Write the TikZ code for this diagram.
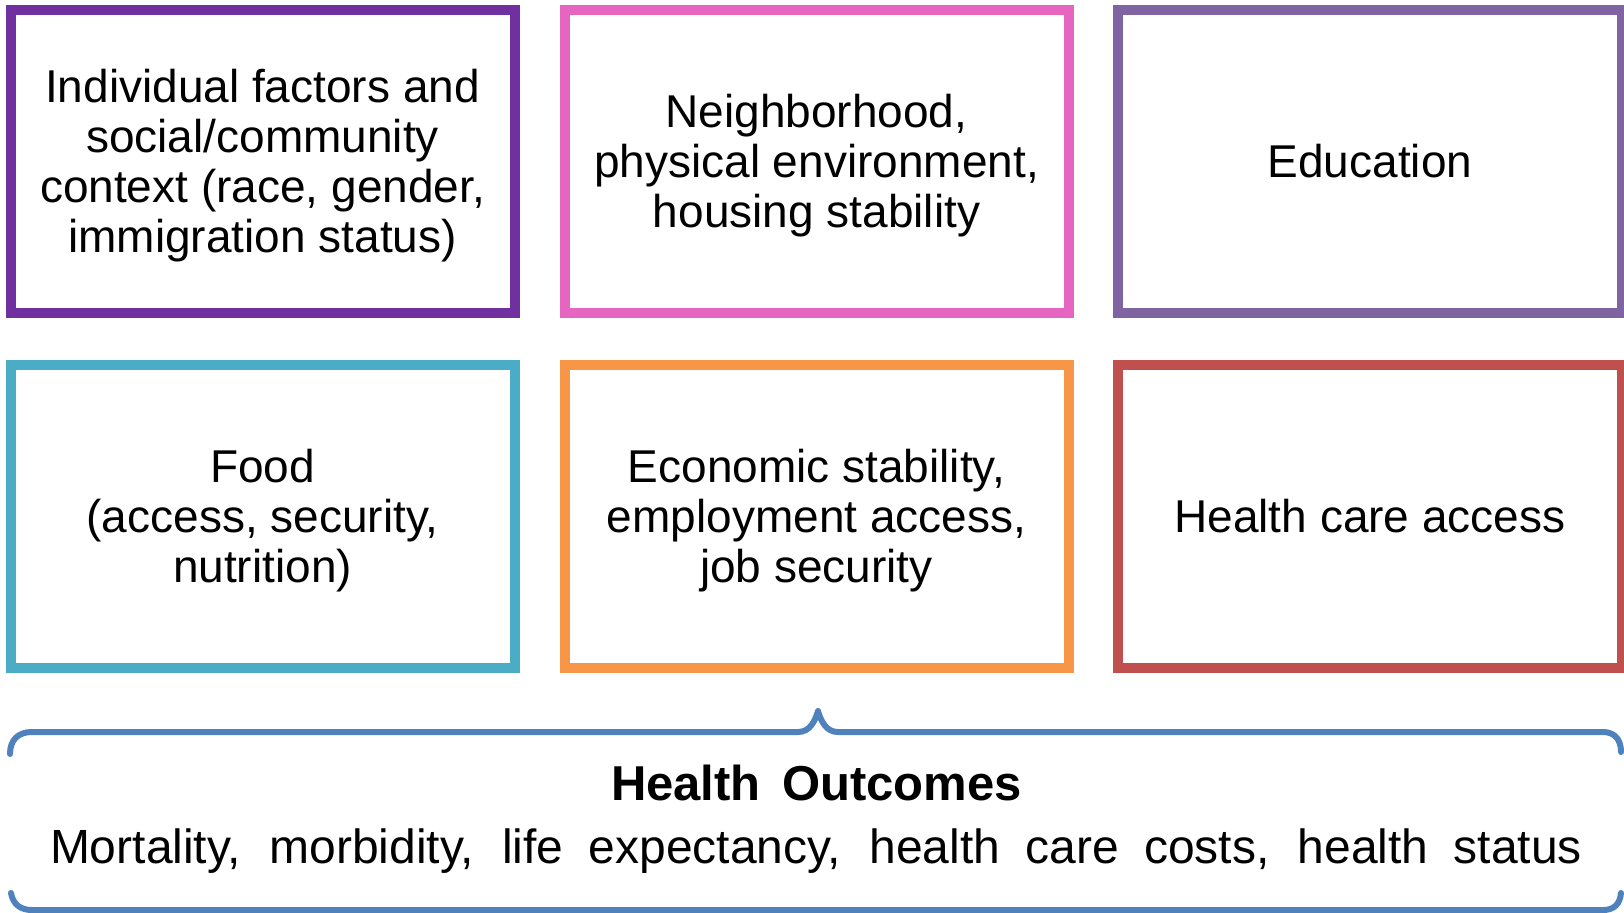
\documentclass[tikz,border=0pt]{standalone}
\usepackage{fontspec}
\setmainfont{Liberation Sans}
\begin{document}
\begin{tikzpicture}[x=0.5pt,y=-0.5pt,
  factor/.style={draw=#1, line width=5pt, minimum width=252pt, minimum height=151.5pt,
    inner sep=0pt, align=center, text depth=0pt, font=\fontsize{23}{25}\selectfont},
  bracket/.style={draw=braceblue, line width=3pt, line cap=round, line join=round}]
\definecolor{cPurple}{HTML}{7030A0}
\definecolor{cPink}{HTML}{E565C0}
\definecolor{cMauve}{HTML}{8064A2}
\definecolor{cAqua}{HTML}{4BACC6}
\definecolor{cOrange}{HTML}{F79646}
\definecolor{cRed}{HTML}{C0504D}
\definecolor{braceblue}{HTML}{4F81BD}
\useasboundingbox (0,0) rectangle (1624,912);

% six determinant boxes
\node[factor=cPurple] (indiv) at (262.5,161) {Individual factors and\\social/community\\context (race, gender,\\immigration status)};
\node[factor=cPink]   (neigh) at (816.5,161) {Neighborhood,\\physical environment,\\housing stability};
\node[factor=cMauve]  (educ)  at (1370,161)  {Education};
\node[factor=cAqua]   (food)  at (262.5,516) {Food\\(access, security,\\nutrition)};
\node[factor=cOrange] (econ)  at (816.5,516) {Economic stability,\\employment access,\\job security};
\node[factor=cRed]    (care)  at (1370,516)  {Health care access};

% brace enclosing the outcomes
\draw[bracket] (10,754) .. controls (10,740) and (18,732) .. (32,732)
  -- (798,732) .. controls (810,732) and (815,721) .. (818,711)
  .. controls (821,721) and (826,732) .. (838,732)
  -- (1603,732) .. controls (1615,732) and (1621,740) .. (1621,752);
\draw[bracket] (11,893) .. controls (13,904) and (20,910) .. (32,910)
  -- (1603,910) .. controls (1614,910) and (1620,904) .. (1621,893);

% outcome texts
\node[anchor=base, inner sep=0pt, font=\fontsize{24.5}{28}\selectfont\bfseries] (outt) at (816.5,800)
  {Health\hspace{4pt} Outcomes};
\node[anchor=base, inner sep=0pt, font=\fontsize{24}{28}\selectfont] (outl) at (816,863)
  {\makebox[766pt][s]{Mortality, morbidity, life expectancy, health care costs, health status}};
\end{tikzpicture}
\end{document}
